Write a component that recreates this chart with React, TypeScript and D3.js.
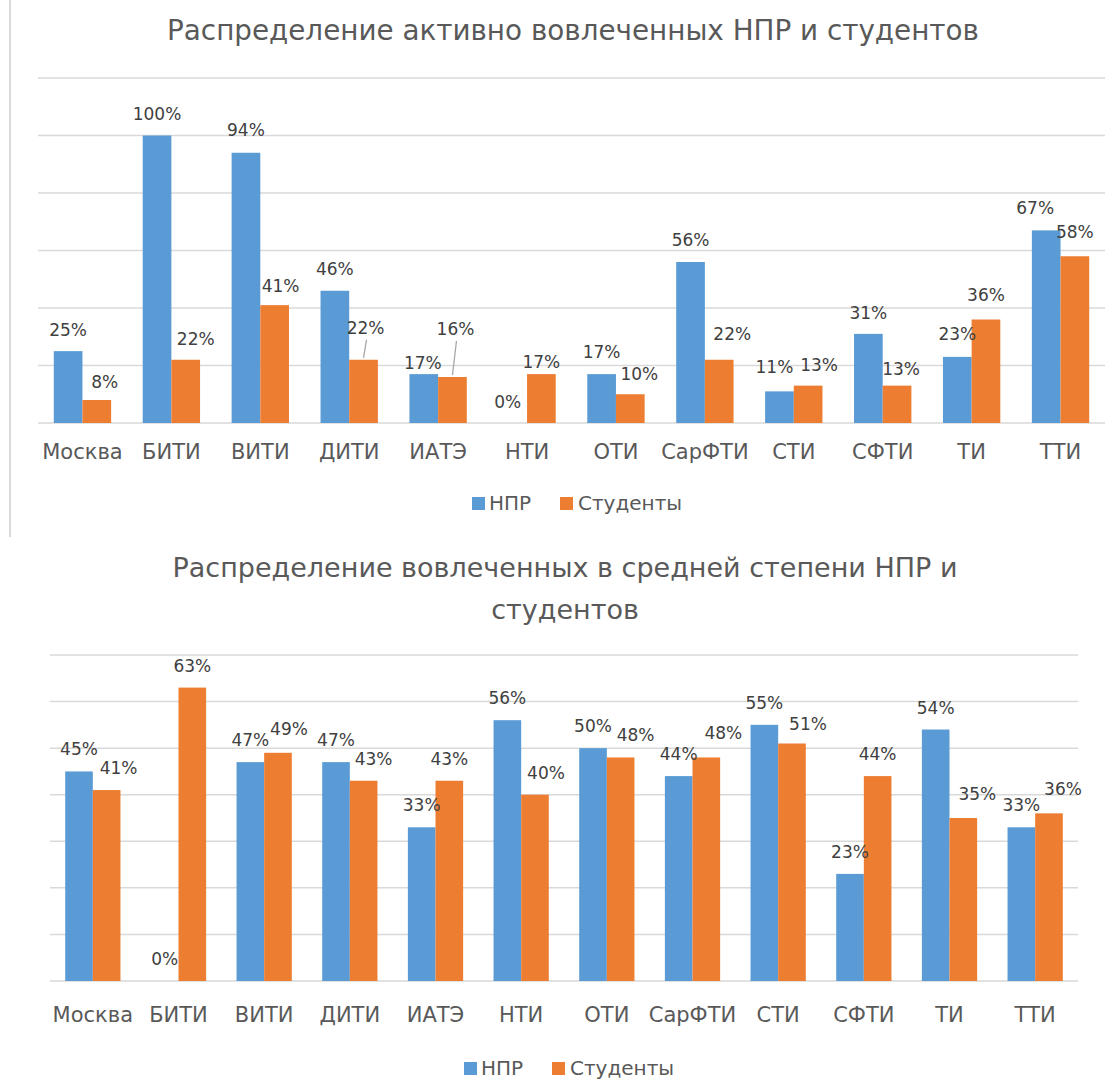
import React from "react";
import * as d3 from "d3";

const categories = ["Москва", "БИТИ", "ВИТИ", "ДИТИ", "ИАТЭ", "НТИ", "ОТИ", "СарФТИ", "СТИ", "СФТИ", "ТИ", "ТТИ"];
const seriesNames = ["НПР", "Студенты"];

const activeStaff = [25, 100, 94, 46, 17, 0, 17, 56, 11, 31, 23, 67];
const activeStudents = [8, 22, 41, 22, 16, 17, 10, 22, 13, 13, 36, 58];
const activeTicks = [0, 20, 40, 60, 80, 100, 120];
const activeTitle = ["Распределение активно вовлеченных НПР и студентов"];

const mediumStaff = [45, 0, 47, 47, 33, 56, 50, 44, 55, 23, 54, 33];
const mediumStudents = [41, 63, 49, 43, 43, 40, 48, 48, 51, 44, 35, 36];
const mediumTicks = [0, 10, 20, 30, 40, 50, 60, 70];
const mediumTitle = ["Распределение вовлеченных в средней степени НПР и", "студентов"];

// label nudges (dx, dy, leader line) relative to default placement above the bar
const activeStaffNudge: [number, number, boolean][] = [
  [0, 1, false], [0, 0, false], [0, -1, false], [0, 0, false], [-1, 11, false], [-5, 1, false],
  [0, 0, false], [0, 0, false], [-5, -2, false], [0, 1, false], [0, -1, false], [-11, 0, false],
];
const activeStudentsNudge: [number, number, boolean][] = [
  [8, 4, false], [10, 1, false], [6, 3, false], [2, -10, true], [3, -26, true], [0, 10, false],
  [9, 2, false], [13, -4, false], [11, 1, false], [4, 5, false], [0, -3, false], [0, -2, false],
];
const mediumStaffNudge: [number, number, boolean][] = categories.map(() => [0, 0, false]);
const mediumStudentsNudge: [number, number, boolean][] = [
  [12, 0, false], [0, 0, false], [11, -2, false], [10, 0, false], [0, 0, false], [11, 0, false],
  [15, 0, false], [17, -2, false], [16, 3, false], [0, 0, false], [14, -2, false], [14, -2, false],
];

const BLUE = "#5B9BD5";
const ORANGE = "#ED7D31";
const GRID = "#D9D9D9";
const FONT = "'DejaVu Sans', sans-serif";

type ChartProps = {
  title: string[];
  titleY: number;
  titleCx: number;
  titleSize: number;
  staff: number[];
  students: number[];
  staffNudge: [number, number, boolean][];
  studentsNudge: [number, number, boolean][];
  ticks: number[];
  x0: number;
  x1: number;
  yTop: number;
  yBase: number;
  axisLabelY: number;
  legendY: number;
  legendCx: number;
};

function Chart(p: ChartProps) {
  const x = d3.scaleBand<string>().domain(categories).range([p.x0, p.x1]).paddingInner(0.355).paddingOuter(0.1775);
  const inner = d3.scaleBand<string>().domain(seriesNames).range([0, x.bandwidth()]);
  const y = d3.scaleLinear().domain([0, d3.max(p.ticks) as number]).range([p.yBase, p.yTop]);
  const series = [
    { name: seriesNames[0], values: p.staff, color: BLUE, nudge: p.staffNudge },
    { name: seriesNames[1], values: p.students, color: ORANGE, nudge: p.studentsNudge },
  ];
  return (
    <g>
      {p.title.map((t, i) => (
        <text key={i} x={p.titleCx} y={p.titleY + i * 42} textAnchor="middle" fontSize={p.titleSize} fill="#595959" fontFamily={FONT}>
          {t}
        </text>
      ))}
      {p.ticks.map((t) => (
        <line key={t} x1={p.x0} x2={p.x1} y1={y(t)} y2={y(t)} stroke={GRID} strokeWidth={1.5} />
      ))}
      {series.map((s) =>
        categories.map((c, i) => {
          const bx = (x(c) as number) + (inner(s.name) as number);
          const bw = inner.bandwidth();
          const v = s.values[i];
          return (
            <rect key={s.name + c} x={bx} y={y(v)} width={bw} height={p.yBase - y(v)} fill={s.color} />
          );
        })
      )}
      {series.map((s) =>
        categories.map((c, i) => {
          const cx = (x(c) as number) + (inner(s.name) as number) + inner.bandwidth() / 2;
          const v = s.values[i];
          const [dx, dy, leader] = s.nudge[i];
          const ly = y(v) - 16 + dy;
          const lx = cx + dx;
          return (
            <g key={"l" + s.name + c}>
              {leader && (
                <line x1={lx + 1} y1={ly + 6} x2={cx} y2={y(v) - 2} stroke="#A6A6A6" strokeWidth={1.3} />
              )}
              <text x={lx} y={ly} textAnchor="middle" fontSize={17} fill="#404040" fontFamily={FONT}>
                {v + "%"}
              </text>
            </g>
          );
        })
      )}
      {categories.map((c) => (
        <text key={"a" + c} x={(x(c) as number) + x.bandwidth() / 2} y={p.axisLabelY} textAnchor="middle" fontSize={21} fill="#595959" fontFamily={FONT}>
          {c}
        </text>
      ))}
      <g transform={`translate(${p.legendCx - 106},${p.legendY})`}>
        <rect x={0} y={-13} width={13} height={13} fill={BLUE} />
        <text x={17} y={0} fontSize={20} fill="#595959" fontFamily={FONT}>{seriesNames[0]}</text>
        <rect x={88} y={-13} width={13} height={13} fill={ORANGE} />
        <text x={106} y={0} fontSize={20} fill="#595959" fontFamily={FONT}>{seriesNames[1]}</text>
      </g>
    </g>
  );
}

export default function App() {
  return (
    <svg width={1107} height={1080} style={{ position: "absolute", left: 0, top: 0, background: "#fff" }}>
      <rect x={0} y={0} width={1107} height={1080} fill="#fff" />
      <line x1={10} x2={10} y1={0} y2={537} stroke={GRID} strokeWidth={2} />
      <Chart
        title={activeTitle}
        titleY={40}
        titleCx={573}
        titleSize={27.8}
        staff={activeStaff}
        students={activeStudents}
        staffNudge={activeStaffNudge}
        studentsNudge={activeStudentsNudge}
        ticks={activeTicks}
        x0={38}
        x1={1105}
        yTop={78}
        yBase={423}
        axisLabelY={459}
        legendY={510}
        legendCx={578}
      />
      <Chart
        title={mediumTitle}
        titleY={577}
        titleCx={565}
        titleSize={27}
        staff={mediumStaff}
        students={mediumStudents}
        staffNudge={mediumStaffNudge}
        studentsNudge={mediumStudentsNudge}
        ticks={mediumTicks}
        x0={50}
        x1={1078}
        yTop={655}
        yBase={981}
        axisLabelY={1022}
        legendY={1075}
        legendCx={570}
      />
    </svg>
  );
}
